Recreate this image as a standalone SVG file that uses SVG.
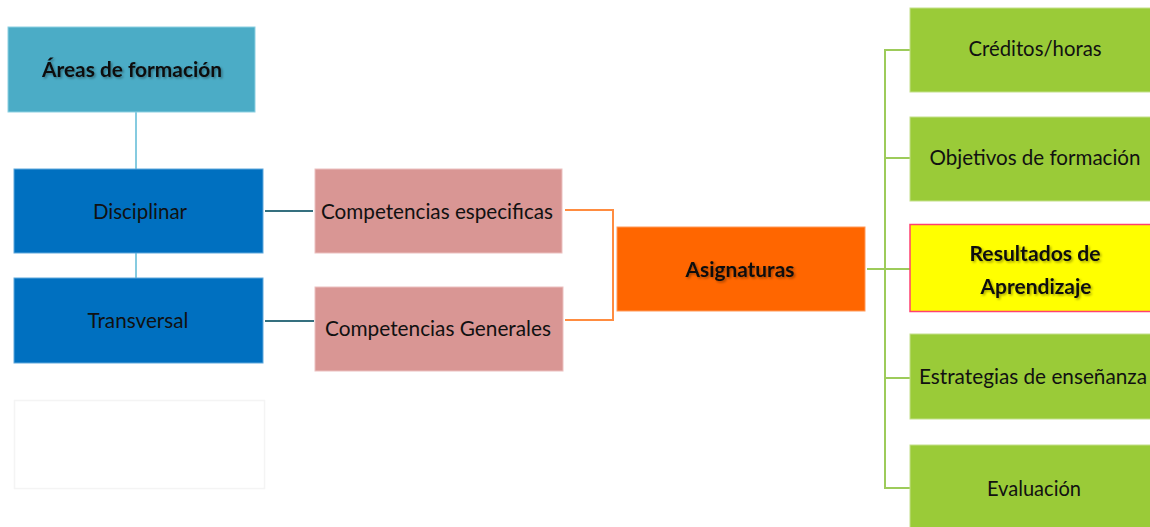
<svg xmlns="http://www.w3.org/2000/svg" width="1150" height="527" viewBox="0 0 1150 527">
  <defs>
    <filter id="sh" x="-10%" y="-30%" width="120%" height="160%">
      <feDropShadow dx="1.5" dy="1.5" stdDeviation="1" flood-color="#000" flood-opacity="0.35"/>
    </filter>
  </defs>
  <style>
    .t { font-family: Lato, "Open Sans", "Liberation Sans", sans-serif; font-size: 21px; fill: #111; text-anchor: middle; dominant-baseline: central; }
    .b { font-weight: bold; filter: url(#sh); }
    .edge { fill: none; stroke-width: 2; }
    .green { fill: #9ACB38; stroke: #C3E08A; stroke-width: 1; }
  </style>
  <rect width="1150" height="527" fill="#fff"/>

  <g id="connectors">
    <path class="edge" stroke="#86CBE0" d="M136 112 V169 M136 253 V278"/>
    <path class="edge" stroke="#35707F" d="M265 211 H313 M265 321 H314"/>
    <path class="edge" stroke="#FF8C40" d="M565 210 H613 V320 H565"/>
    <path class="edge" stroke="#9DCB5A" d="M867 269 H910 M910 50 H885 V488 H910 M885 158 H910 M885 378 H910"/>
  </g>

  <g id="empty-box">
    <rect x="14.5" y="400.5" width="250" height="88" fill="#fff" stroke="#f4f4f4" stroke-width="1.5"/>
  </g>

  <g id="areas">
    <rect x="8" y="27" width="247" height="85" fill="#4BACC6" stroke="#8CD0E2" stroke-width="1"/>
    <text class="t b" x="132" y="68" textLength="180" lengthAdjust="spacingAndGlyphs">Áreas de formación</text>
  </g>
  <g id="disciplinar">
    <rect x="14" y="169" width="249" height="84" fill="#0070C0" stroke="#5FA8DC" stroke-width="1"/>
    <text class="t" x="140" y="210" textLength="94" lengthAdjust="spacingAndGlyphs">Disciplinar</text>
  </g>
  <g id="transversal">
    <rect x="14" y="278" width="249" height="85" fill="#0070C0" stroke="#5FA8DC" stroke-width="1"/>
    <text class="t" x="138" y="319" textLength="101" lengthAdjust="spacingAndGlyphs">Transversal</text>
  </g>
  <g id="comp-especificas">
    <rect x="315" y="169" width="247" height="84" fill="#D99694" stroke="#EBC0BF" stroke-width="1"/>
    <text class="t" x="437" y="210" textLength="232" lengthAdjust="spacingAndGlyphs">Competencias especificas</text>
  </g>
  <g id="comp-generales">
    <rect x="315" y="287" width="248" height="84" fill="#D99694" stroke="#EBC0BF" stroke-width="1"/>
    <text class="t" x="438" y="327" textLength="226" lengthAdjust="spacingAndGlyphs">Competencias Generales</text>
  </g>
  <g id="asignaturas">
    <rect x="617" y="227" width="248" height="84" fill="#FF6600" stroke="#FF9A5A" stroke-width="1"/>
    <text class="t b" x="740" y="268" textLength="109" lengthAdjust="spacingAndGlyphs">Asignaturas</text>
  </g>
  <g id="creditos">
    <rect class="green" x="910" y="8" width="241" height="84"/>
    <text class="t" x="1035" y="47" textLength="133" lengthAdjust="spacingAndGlyphs">Créditos/horas</text>
  </g>
  <g id="objetivos">
    <rect class="green" x="910" y="117" width="241" height="84"/>
    <text class="t" x="1035" y="156" textLength="211" lengthAdjust="spacingAndGlyphs">Objetivos de formación</text>
  </g>
  <g id="resultados">
    <rect x="910" y="224.5" width="241" height="87" fill="#FFFF00" stroke="#FF4070" stroke-width="1.5"/>
    <text class="t b" x="1035" y="252" textLength="131" lengthAdjust="spacingAndGlyphs">Resultados de</text>
    <text class="t b" x="1036" y="285" textLength="111" lengthAdjust="spacingAndGlyphs">Aprendizaje</text>
  </g>
  <g id="estrategias">
    <rect class="green" x="910" y="334" width="241" height="85"/>
    <text class="t" x="1033" y="375" textLength="228" lengthAdjust="spacingAndGlyphs">Estrategias de enseñanza</text>
  </g>
  <g id="evaluacion">
    <rect class="green" x="910" y="445" width="241" height="84"/>
    <text class="t" x="1034" y="487" textLength="94" lengthAdjust="spacingAndGlyphs">Evaluación</text>
  </g>
</svg>
